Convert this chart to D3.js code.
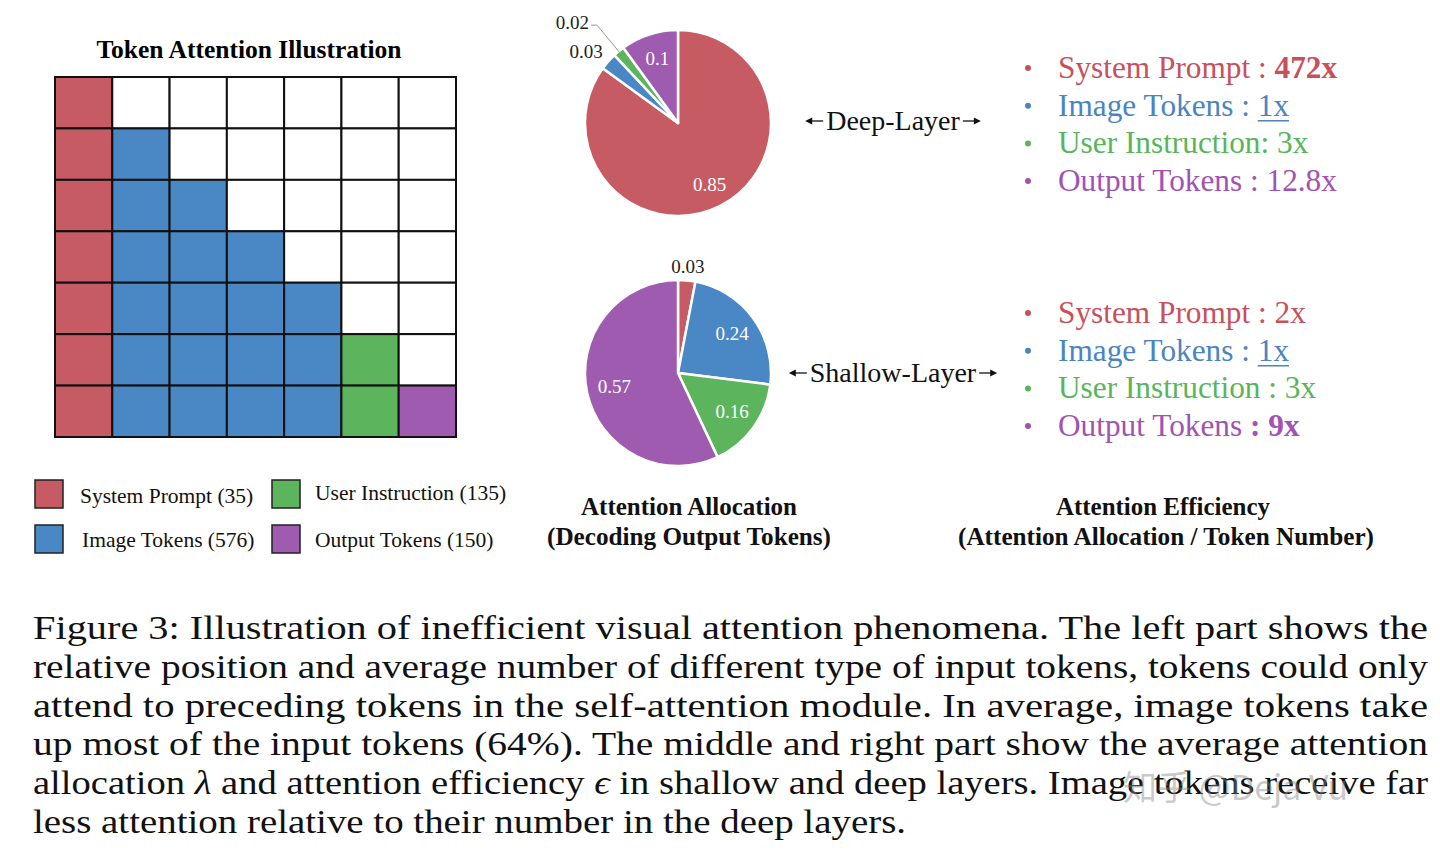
<!DOCTYPE html>
<html><head><meta charset="utf-8">
<script src="https://cdn.jsdelivr.net/npm/d3@7/dist/d3.min.js"></script>
<style>html,body{margin:0;padding:0;background:#fff;}svg{display:block;}</style>
</head><body>
<svg id="c" width="1440" height="850"></svg>
<script>
// ---------------- data ----------------
const categories = ["System Prompt", "Image Tokens", "User Instruction", "Output Tokens"];
const tokenCounts = [35, 576, 135, 150];
const gridRows = [
  [0],
  [0, 1],
  [0, 1, 1],
  [0, 1, 1, 1],
  [0, 1, 1, 1, 1],
  [0, 1, 1, 1, 1, 2],
  [0, 1, 1, 1, 1, 2, 3]
];
const deepAlloc = [0.85, 0.03, 0.02, 0.10];
const shallowAlloc = [0.03, 0.24, 0.16, 0.57];
const deepEffLabels = ["472x", "1x", "3x", "12.8x"];
const shallowEffLabels = ["2x", "1x", "3x", "9x"];
const captionLines = [
  "Figure 3: Illustration of inefficient visual attention phenomena. The left part shows the",
  "relative position and average number of different type of input tokens, tokens could only",
  "attend to preceding tokens in the self-attention module. In average, image tokens take",
  "up most of the input tokens (64%). The middle and right part show the average attention",
  "allocation λ and attention efficiency ϵ in shallow and deep layers. Image tokens receive far",
  "less attention relative to their number in the deep layers."
];

// ---------------- style ----------------
const colors = ["#C75B64", "#4A87C5", "#5CB55C", "#9F5BB0"];
const textColors = ["#C8505B", "#4A85C0", "#59B559", "#A152B3"];
const SERIF = "'Liberation Serif','Times New Roman',serif";
const svg = d3.select("#c");

// ---------------- grid ----------------
const n = 7;
const gx = d3.scaleBand().domain(d3.range(n)).range([55, 456]);
const gy = d3.scaleBand().domain(d3.range(n)).range([77, 437]);
svg.append("text").attr("x", 249).attr("y", 58).attr("text-anchor", "middle")
  .attr("font-family", SERIF).attr("font-weight", "bold").attr("font-size", 25.5)
  .text("Token Attention Illustration");
const cells = [];
d3.range(n).forEach(r => d3.range(n).forEach(c => {
  cells.push({ r, c, k: c < gridRows[r].length ? gridRows[r][c] : -1 });
}));
svg.append("g").selectAll("rect").data(cells).join("rect")
  .attr("x", d => gx(d.c)).attr("y", d => gy(d.r))
  .attr("width", gx.bandwidth()).attr("height", gy.bandwidth())
  .attr("fill", d => d.k < 0 ? "#fff" : colors[d.k])
  .attr("stroke", "#111").attr("stroke-width", 2);

// ---------------- legend ----------------
const legPos = [[35, 480], [35, 525], [272, 480], [272, 525]];
const legText = [[80, 503], [82, 547], [315, 500], [315, 547]];
categories.forEach((cat, i) => {
  svg.append("rect").attr("x", legPos[i][0]).attr("y", legPos[i][1])
    .attr("width", 28).attr("height", 28).attr("fill", colors[i])
    .attr("stroke", "#222").attr("stroke-width", 1.5);
  svg.append("text").attr("x", legText[i][0]).attr("y", legText[i][1])
    .attr("font-family", SERIF).attr("font-size", 21.5).attr("fill", "#111")
    .text(`${cat} (${tokenCounts[i]})`);
});

// ---------------- pies ----------------
const R = 93;
const pie = d3.pie().sort(null).value(d => d);
const arc = d3.arc().innerRadius(0).outerRadius(R);
const polar = (a, rad) => [Math.sin(a) * rad, -Math.cos(a) * rad];

function drawPie(cx, cy, values, labelModes) {
  const g = svg.append("g").attr("transform", `translate(${cx},${cy})`);
  const arcs = pie(values);
  g.selectAll("path").data(arcs).join("path")
    .attr("d", arc).attr("fill", (d, i) => colors[i])
    .attr("stroke", "#fff").attr("stroke-width", 2.5).attr("stroke-linejoin", "round");
  arcs.forEach((d, i) => {
    const mid = (d.startAngle + d.endAngle) / 2;
    const m = labelModes[i];
    const t = g.append("text").attr("font-family", SERIF).attr("font-size", 19)
      .text(String(values[i]));
    if (m.mode === "in") {
      const [x, y] = polar(mid, R * (m.k || 0.72));
      t.attr("x", x).attr("y", y + 6).attr("text-anchor", "middle").attr("fill", "#fff");
    } else if (m.mode === "out") {
      const [x, y] = polar(mid, R + m.off);
      t.attr("x", x + (m.dx || 0)).attr("y", y + 6).attr("text-anchor", m.anchor).attr("fill", "#222");
    } else if (m.mode === "leader") {
      const p1 = polar(mid, R - 2);
      const p2 = polar(mid, R + m.off);
      const p3 = [p2[0] - 6, p2[1]];
      g.append("polyline").attr("points", [p1, p2, p3].map(p => p.join(",")).join(" "))
        .attr("fill", "none").attr("stroke", "#999").attr("stroke-width", 1);
      t.attr("x", p3[0] - 2).attr("y", p3[1] + 4).attr("text-anchor", "end").attr("fill", "#222");
    }
  });
}
drawPie(678, 123, deepAlloc, [
  { mode: "in", k: 0.75 }, { mode: "out", off: 14, anchor: "end", dx: 5 }, { mode: "leader", off: 34 }, { mode: "in" }
]);
drawPie(678, 373, shallowAlloc, [
  { mode: "out", off: 13, anchor: "middle" }, { mode: "in" }, { mode: "in" }, { mode: "in", k: 0.7 }
]);

// arrows labels
function arrowLabel(cx, y, label) {
  const t = svg.append("text").attr("x", cx).attr("y", y).attr("text-anchor", "middle")
    .attr("font-family", SERIF).attr("font-size", 28).attr("fill", "#111").text(label);
  const w = t.node().getComputedTextLength();
  const ay = y - 9;
  const left = cx - w / 2 - 3, right = cx + w / 2 + 3;
  [[left, left - 18, -1], [right, right + 18, 1]].forEach(([x0, x1, dir]) => {
    svg.append("line").attr("x1", x0).attr("x2", x1 - dir * 5).attr("y1", ay).attr("y2", ay)
      .attr("stroke", "#111").attr("stroke-width", 1.3);
    svg.append("path").attr("d", `M${x1},${ay} L${x1 - dir * 7},${ay - 3.5} L${x1 - dir * 7},${ay + 3.5} Z`)
      .attr("fill", "#111");
  });
}
arrowLabel(893, 130, "Deep-Layer");
arrowLabel(893, 382, "Shallow-Layer");

// ---------------- efficiency text ----------------
function effBlock(y0, labels, seps, boldVal, boldSep) {
  categories.forEach((cat, i) => {
    const y = y0 + i * 37.7;
    svg.append("circle").attr("cx", 1028).attr("cy", y - 10).attr("r", 3).attr("fill", textColors[i]);
    const t = svg.append("text").attr("x", 1058).attr("y", y)
      .attr("font-family", SERIF).attr("font-size", 31.3).attr("fill", textColors[i]);
    t.append("tspan").text(cat);
    t.append("tspan").attr("font-weight", boldSep[i] ? "bold" : null).text(seps[i]);
    t.append("tspan").attr("font-weight", boldVal[i] ? "bold" : null).text(labels[i]);
    if (i === 1) {
      const node = t.node();
      const startIdx = (cat + seps[i]).length;
      const s = node.getStartPositionOfChar(startIdx).x;
      const e = node.getEndPositionOfChar(startIdx + labels[i].length - 1).x;
      svg.append("line").attr("x1", s).attr("x2", e).attr("y1", y + 5).attr("y2", y + 5)
        .attr("stroke", textColors[i]).attr("stroke-width", 1.6);
    }
  });
}
effBlock(78, deepEffLabels, [" : ", " : ", ": ", " : "], [true, false, false, false], [false, false, false, false]);
effBlock(323, shallowEffLabels, [" : ", " : ", " : ", " : "], [false, false, false, true], [false, false, false, true]);

// ---------------- section titles ----------------
function title(cx, y, txt, len) {
  svg.append("text").attr("x", cx - len / 2).attr("y", y)
    .attr("font-family", SERIF).attr("font-weight", "bold").attr("font-size", 24.5).attr("fill", "#111")
    .attr("textLength", len).attr("lengthAdjust", "spacingAndGlyphs").text(txt);
}
title(689, 515, "Attention Allocation", 216);
title(689, 545, "(Decoding Output Tokens)", 284);
title(1163, 515, "Attention Efficiency", 214);
title(1166, 545, "(Attention Allocation / Token Number)", 416);

// ---------------- caption ----------------
captionLines.forEach((line, i) => {
  const t = svg.append("text").attr("x", 33).attr("y", 639 + i * 38.8)
    .attr("font-family", SERIF).attr("font-size", 33).attr("fill", "#111")
    .attr("textLength", i < 5 ? 1395 : 873).attr("lengthAdjust", "spacingAndGlyphs");
  const parts = line.split(/([λϵ])/);
  parts.forEach(p => {
    const ts = t.append("tspan").text(p);
    if (p === "λ" || p === "ϵ") ts.attr("font-style", "italic");
  });
});

// watermark
svg.append("text").attr("x", 1123).attr("y", 800)
  .attr("font-family", "'Noto Sans CJK SC','Noto Sans',sans-serif").attr("font-size", 34)
  .attr("fill", "#888").attr("fill-opacity", 0.45).text("知乎 @Deja Vu");
</script>
</body></html>
